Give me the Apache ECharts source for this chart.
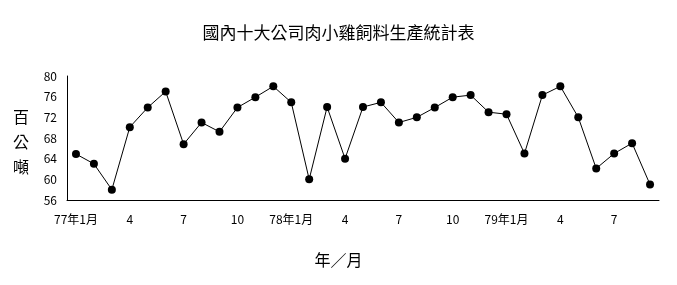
<!DOCTYPE html>
<html><head><meta charset="utf-8">
<script src="https://cdn.jsdelivr.net/npm/echarts@6/dist/echarts.min.js"></script>
<style>html,body{margin:0;padding:0;background:#fff}#c{width:677px;height:285px}</style>
</head><body><div id="c"></div>
<script>
const titleText = '國內十大公司肉小雞飼料生產統計表';
const xAxisName = '年／月';
const yAxisName = '百公噸';
const categories = ['77年1月','2','3','4','5','6','7','8','9','10','11','12',
  '78年1月','2','3','4','5','6','7','8','9','10','11','12',
  '79年1月','2','3','4','5','6','7','8','9'];
const tickLabels = {0:'77年1月',3:'4',6:'7',9:'10',12:'78年1月',15:'4',18:'7',21:'10',24:'79年1月',27:'4',30:'7'};
const values = [64.9,63.0,58.0,70.1,73.9,77.0,66.8,71.0,69.2,73.9,75.9,78.0,
  74.9,60.0,74.0,64.0,74.0,74.9,71.0,72.0,73.9,75.9,76.3,73.0,
  72.6,65.0,76.3,78.0,72.0,62.1,65.0,67.0,59.0];
const yTicks = [56,60,64,68,72,76,80];

const chart = echarts.init(document.getElementById('c'));
const cjk = '"Noto Sans CJK TC", "Noto Sans CJK SC", sans-serif';
chart.setOption({
  animation:false,
  backgroundColor:'#fff',
  title:{text:titleText,left:'center',top:19,textStyle:{fontFamily:cjk,fontSize:17,fontWeight:'normal',color:'#000'}},
  graphic:[
    {type:'text',left:13,top:104,style:{text:'百\n公\n噸',font:'16px '+cjk,lineHeight:25,fill:'#000'}},
    {type:'text',left:'center',top:252,style:{text:xAxisName,font:'16px '+cjk,fill:'#000'}}
  ],
  grid:{left:67,right:18,top:76,bottom:85},
  xAxis:{type:'category',data:categories,boundaryGap:true,
    axisLine:{lineStyle:{color:'#000',width:1}},
    axisTick:{inside:true,length:4,alignWithLabel:false,interval:0,lineStyle:{color:'#000'}},
    axisLabel:{interval:0,margin:13,fontFamily:cjk,fontSize:12,color:'#000',
      formatter:(v,i)=>tickLabels[i]!==undefined?tickLabels[i]:''},
    splitLine:{show:false}},
  yAxis:{type:'value',min:56,max:80,interval:4,
    axisLine:{show:true,lineStyle:{color:'#000',width:1}},
    axisTick:{show:false},
    axisLabel:{margin:10,fontFamily:cjk,fontSize:12,color:'#000'},
    splitLine:{show:false}},
  series:[{type:'line',data:values,symbol:'circle',symbolSize:8,
    itemStyle:{color:'#000'},lineStyle:{color:'#000',width:1}}]
});
</script></body></html>
